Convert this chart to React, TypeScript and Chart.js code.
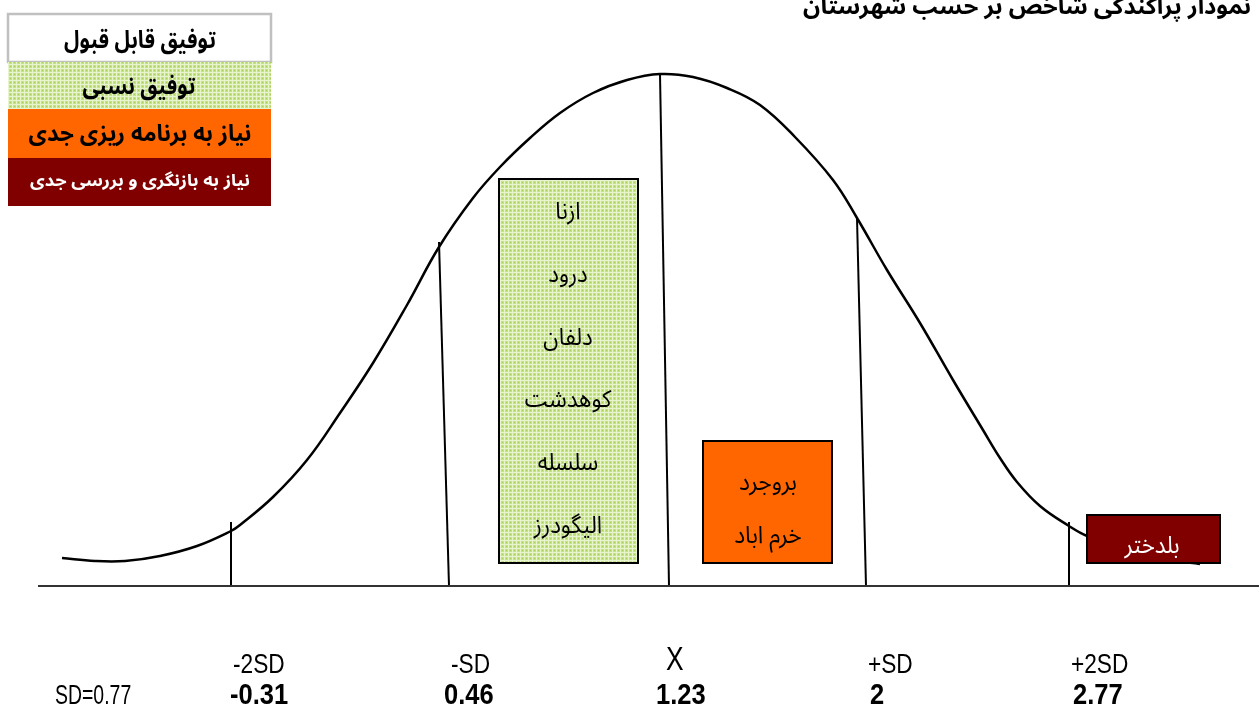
import React, { useEffect, useRef } from "react";
import { Chart, registerables } from "chart.js";

Chart.register(...registerables);

// ---- data (diagram units: x across, y measured downward from the top) ----
const title = "نمودار پراکندگی شاخص بر حسب شهرستان";

const curveX = [62, 95, 125, 160, 197, 231, 240, 273, 307, 340, 373, 407, 439, 473, 500, 530, 560, 593, 627, 660, 693, 727, 760, 795, 833, 857, 887, 920, 953, 983, 1000, 1017, 1040, 1069, 1087, 1140, 1200];
const curveY = [558, 561, 561, 556, 546, 531, 525, 497, 460, 413, 363, 305, 247, 198, 167, 138, 113, 93, 80, 74, 77, 88, 105, 137, 180, 218, 270, 323, 380, 430, 458, 482, 506, 526, 536, 555, 564];

const sdLabels = ["-2SD", "-SD", "X", "+SD", "+2SD"];
const sdValues = ["-0.31", "0.46", "1.23", "2", "2.77"];
const sdNote = "SD=0.77";
const sdTopX = [231, 439, 660, 857, 1069];
const sdTopY = [522, 242, 74, 218, 522];
const sdBottomX = [231, 449, 669, 866, 1069];
const baseY = 586;

const legendLabels = [
  "توفیق قابل قبول",
  "توفیق نسبی",
  "نیاز به برنامه ریزی جدی",
  "نیاز به بازنگری و بررسی جدی",
];
const greenDistricts = ["ازنا", "درود", "دلفان", "کوهدشت", "سلسله", "الیگودرز"];
const orangeDistricts = ["بروجرد", "خرم اباد"];
const redDistricts = ["بلدختر"];

// ---- layout / style ----
const W = 1259;
const H = 709;
const ORANGE = "#FF6600";
const DARKRED = "#800000";
const FA = "'Noto Sans Arabic', 'Noto Naskh Arabic', 'Liberation Sans', Arial, 'DejaVu Sans', sans-serif";
const LAT = "'Liberation Sans', Arial, sans-serif";

function makePattern(ctx: CanvasRenderingContext2D) {
  const c = document.createElement("canvas");
  c.width = 4;
  c.height = 4;
  const p = c.getContext("2d")!;
  p.fillStyle = "#C4E285";
  p.fillRect(0, 0, 4, 4);
  p.fillStyle = "#E8F4CE";
  p.fillRect(0, 0, 4, 1);
  p.fillRect(0, 0, 1, 4);
  p.fillStyle = "#A9D05C";
  p.fillRect(2, 2, 1, 1);
  return ctx.createPattern(c, "repeat")!;
}

const overlay = {
  id: "overlay",
  afterDatasetsDraw(chart: any) {
    const ctx: CanvasRenderingContext2D = chart.ctx;
    const xs = chart.scales.x;
    const ys = chart.scales.y;
    const X = (v: number) => xs.getPixelForValue(v);
    const Y = (v: number) => ys.getPixelForValue(v);
    const pattern = makePattern(ctx);

    const rect = (x0: number, y0: number, x1: number, y1: number, fill: any, stroke?: string, lw = 2) => {
      const px = X(x0), py = Y(y0), pw = X(x1) - px, ph = Y(y1) - py;
      ctx.fillStyle = fill;
      ctx.fillRect(px, py, pw, ph);
      if (stroke) {
        ctx.strokeStyle = stroke;
        ctx.lineWidth = lw;
        ctx.strokeRect(px, py, pw, ph);
      }
    };
    // sx: horizontal squeeze; fit: target width (overrides sx)
    const text = (
      s: string, x: number, y: number, font: string, color: string,
      align: CanvasTextAlign = "center", rtl = true, sx = 1, fit = 0
    ) => {
      ctx.save();
      ctx.font = font;
      ctx.fillStyle = color;
      ctx.textAlign = align;
      ctx.textBaseline = "alphabetic";
      (ctx as any).direction = rtl ? "rtl" : "ltr";
      let k = sx;
      if (fit > 0) k = fit / ctx.measureText(s).width;
      ctx.translate(X(x), Y(y));
      ctx.scale(k, 1);
      ctx.fillText(s, 0, 0);
      ctx.restore();
    };

    // title (cut at the top like the source)
    text(title, 1251, 14, `bold 23px ${FA}`, "#000", "right", true, 1, 448);

    // legend
    rect(8, 14, 271, 62, "#FFFFFF", "#C0C0C0", 2.5);
    rect(8, 62, 271, 109, pattern);
    rect(8, 109, 271, 158, ORANGE);
    rect(8, 158, 271, 206, DARKRED);
    text(legendLabels[0], 140, 48, `bold 24px ${FA}`, "#000", "center", true, 1, 152);
    text(legendLabels[1], 139, 94, `bold 24px ${FA}`, "#000", "center", true, 1, 113);
    text(legendLabels[2], 140, 141, `bold 23px ${FA}`, "#000", "center", true, 1, 223);
    text(legendLabels[3], 140, 186, `bold 17px ${FA}`, "#FFF", "center", true, 1, 220);

    // district boxes
    rect(499, 179, 638, 563, pattern, "#000", 2);
    greenDistricts.forEach((d, i) => text(d, 568, 219 + i * 62.8, `24px ${FA}`, "#000", "center", true, 0.93));
    rect(703, 441, 832, 563, ORANGE, "#000", 2);
    orangeDistricts.forEach((d, i) => text(d, 768, 490 + i * 53, `24px ${FA}`, "#000", "center", true, 0.95));
    rect(1087, 515, 1220, 563, DARKRED, "#000", 2);
    redDistricts.forEach((d) => text(d, 1152, 553, `24px ${FA}`, "#FFF", "center", true, 0.93));

    // bottom labels
    sdLabels.forEach((s, i) => {
      const big = s === "X";
      text(s, sdBottomX[i] + (big ? -3 : 2), big ? 670 : 673, big ? `33px ${LAT}` : `27px ${LAT}`, "#000", "left", false, big ? 0.8 : 0.84);
      text(sdValues[i], sdBottomX[i] + (i === 0 ? -1 : i === 1 ? -5 : i === 2 ? -13 : 4), 704, `bold 29px ${LAT}`, "#000", "left", false, 0.88);
    });
    text(sdNote, 55, 704, `27px ${LAT}`, "#000", "left", false, 0.72);
  },
};

export default function App() {
  const ref = useRef<HTMLCanvasElement>(null);
  useEffect(() => {
    if (!ref.current) return;
    const sdLines = sdLabels.map((s, i) => ({
      label: s,
      data: [
        { x: sdTopX[i], y: sdTopY[i] },
        { x: sdBottomX[i], y: baseY },
      ],
      borderColor: "#000",
      borderWidth: 2,
      pointRadius: 0,
      showLine: true,
      fill: false,
    }));
    const chart = new Chart(ref.current, {
      type: "scatter",
      data: {
        datasets: [
          {
            label: "baseline",
            data: [
              { x: 38, y: baseY },
              { x: W, y: baseY },
            ],
            borderColor: "#333",
            borderWidth: 2,
            pointRadius: 0,
            showLine: true,
          },
          ...sdLines,
          {
            label: "curve",
            data: curveX.map((x, i) => ({ x, y: curveY[i] })),
            borderColor: "#000",
            borderWidth: 2.5,
            pointRadius: 0,
            showLine: true,
            tension: 0.4,
          },
        ] as any,
      },
      options: {
        animation: false,
        responsive: false,
        events: [],
        layout: { padding: 0 },
        plugins: { legend: { display: false }, tooltip: { enabled: false }, title: { display: false } },
        scales: {
          x: { type: "linear", min: 0, max: W, display: false },
          y: { type: "linear", min: 0, max: H, reverse: true, display: false },
        },
      },
      plugins: [overlay],
    });
    return () => chart.destroy();
  }, []);
  return (
    <div style={{ position: "absolute", left: 0, top: 0, width: W, height: H, background: "#fff" }}>
      <canvas ref={ref} width={W} height={H} />
    </div>
  );
}
